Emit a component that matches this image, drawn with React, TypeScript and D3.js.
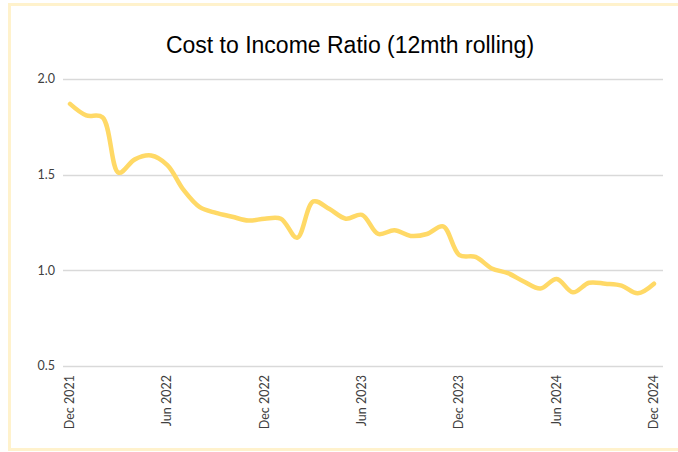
import React, { useEffect, useRef } from "react";
import * as d3 from "d3";

// monthly values, Dec 2021 .. Dec 2024
const months: string[] = [
  "Dec 2021", "Jan 2022", "Feb 2022", "Mar 2022", "Apr 2022", "May 2022", "Jun 2022",
  "Jul 2022", "Aug 2022", "Sep 2022", "Oct 2022", "Nov 2022", "Dec 2022",
  "Jan 2023", "Feb 2023", "Mar 2023", "Apr 2023", "May 2023", "Jun 2023",
  "Jul 2023", "Aug 2023", "Sep 2023", "Oct 2023", "Nov 2023", "Dec 2023",
  "Jan 2024", "Feb 2024", "Mar 2024", "Apr 2024", "May 2024", "Jun 2024",
  "Jul 2024", "Aug 2024", "Sep 2024", "Oct 2024", "Nov 2024", "Dec 2024",
];
const ratio: number[] = [
  1.87, 1.81, 1.8, 1.51, 1.58, 1.6, 1.55,
  1.42, 1.33, 1.3, 1.28, 1.26, 1.27,
  1.27, 1.17, 1.36, 1.32, 1.27, 1.29,
  1.19, 1.21, 1.18, 1.19, 1.23, 1.08,
  1.07, 1.01, 0.985, 0.94, 0.905, 0.955,
  0.885, 0.935, 0.93, 0.92, 0.88, 0.93,
];
const tickMonths: string[] = ["Dec 2021", "Jun 2022", "Dec 2022", "Jun 2023", "Dec 2023", "Jun 2024", "Dec 2024"];
const yTicks: number[] = [0.5, 1.0, 1.5, 2.0];

const W = 678;
const H = 452;

const App = () => {
  const ref = useRef<SVGSVGElement>(null);

  useEffect(() => {
    const svg = d3.select(ref.current);
    svg.selectAll("*").remove();

    // outer border (no right edge visible)
    svg.append("rect")
      .attr("x", 9.5).attr("y", 4.5)
      .attr("width", W + 10).attr("height", 445)
      .attr("fill", "white")
      .attr("stroke", "#FFF2CC")
      .attr("stroke-width", 3);

    svg.append("text")
      .attr("x", 350)
      .attr("y", 53)
      .attr("text-anchor", "middle")
      .style("font-family", "'Liberation Sans', Arial, sans-serif")
      .style("font-size", "23px")
      .style("fill", "#000")
      .text("Cost to Income Ratio (12mth rolling)");

    const x = d3.scalePoint<string>().domain(months).range([70, 654]);
    const y = d3.scaleLinear().domain([0.5, 2.0]).range([366, 79]);

    const grid = svg.append("g");
    yTicks.forEach((t) => {
      grid.append("line")
        .attr("x1", 63).attr("x2", 663)
        .attr("y1", Math.round(y(t)) + 0.5).attr("y2", Math.round(y(t)) + 0.5)
        .attr("stroke", "#D9D9D9")
        .attr("stroke-width", 1.3);
      grid.append("text")
        .attr("x", 55)
        .attr("y", y(t))
        .attr("dy", "0.35em")
        .attr("text-anchor", "end")
        .style("font-family", "Lato, 'Open Sans', sans-serif")
        .style("font-size", "12.5px")
        .style("fill", "#404040")
        .text(t.toFixed(1));
    });

    tickMonths.forEach((m) => {
      svg.append("text")
        .attr("transform", `translate(${x(m)! + 4},375) rotate(-90)`)
        .attr("text-anchor", "end")
        .style("font-family", "Lato, 'Open Sans', sans-serif")
        .style("font-size", "12.5px")
        .style("fill", "#404040")
        .text(m);
    });

    const line = d3.line<number>()
      .x((d, i) => x(months[i])!)
      .y((d) => y(d))
      .curve(d3.curveCatmullRom.alpha(0.5));

    svg.append("path")
      .datum(ratio)
      .attr("fill", "none")
      .attr("stroke", "#FFD966")
      .attr("stroke-width", 4.5)
      .attr("stroke-linecap", "round")
      .attr("stroke-linejoin", "round")
      .attr("d", line);
  }, []);

  return (
    <svg
      ref={ref}
      width={W}
      height={H}
      style={{ position: "absolute", left: 0, top: 0, display: "block" }}
    />
  );
};

export default App;
